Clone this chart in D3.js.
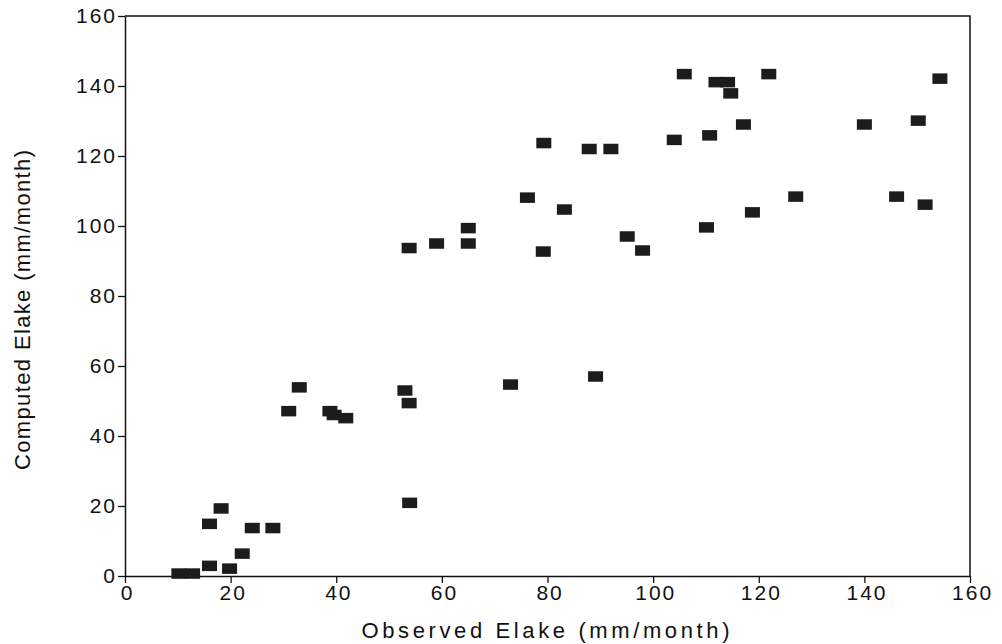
<!DOCTYPE html>
<html>
<head>
<meta charset="utf-8">
<script src="https://cdn.jsdelivr.net/npm/d3@7"></script>
<style>
  body { margin: 0; background: #fff; }
  text { font-family: "Liberation Sans", Arial, sans-serif; fill: #111; }
</style>
</head>
<body>
<div id="svg"></div>
<script>

// observed / computed lake evaporation, mm/month
var observed = [10.2, 12.8, 16, 19.8, 22.2, 16, 18.2, 24.1, 28, 53.9,
		31, 33, 38.8, 39.6, 41.8, 53, 53.8, 73, 89.1,
		53.8, 59, 65, 65, 76.2, 83.2, 79.2, 95.1, 98,
		79.3, 87.9, 92, 105.9, 111.9, 114.1, 114.7, 121.9,
		104, 110.7, 117.1, 110.1, 118.8, 127,
		154.3, 140, 150.2, 146.1, 151.5];
var computed = [0.7, 0.7, 2.9, 2.1, 6.4, 14.9, 19.3, 13.7, 13.7, 20.9,
		47.1, 53.9, 47.1, 46, 45.1, 53, 49.4, 54.7, 57,
		93.7, 95, 99.4, 95, 108.1, 104.7, 92.7, 97, 93,
		123.7, 122, 122, 143.4, 141.1, 141.1, 137.9, 143.4,
		124.6, 125.9, 129, 99.6, 103.9, 108.4,
		142.1, 129, 130.1, 108.4, 106.1];

var x_ticks = [0, 20, 40, 60, 80, 100, 120, 140, 160];
var y_ticks = [0, 20, 40, 60, 80, 100, 120, 140, 160];

var x_title = "Observed Elake (mm/month)";
var y_title = "Computed Elake (mm/month)";

var margin = {top: 16, left: 125, right: 32, bot: 68};
var svg = {width: 1002, height: 644};
var w = svg.width - margin.left - margin.right;
var h = svg.height - margin.top - margin.bot;
var mark = {w: 15, h: 10.5};

var pts = observed.map(function(d, i) { return {x: d, y: computed[i]}; });

var sx = d3.scaleLinear().domain([0, 160]).range([0, w]);
var sy = d3.scaleLinear().domain([0, 160]).range([h, 0]);

var root = d3.select("#svg").append("svg")
    .attr("width", svg.width)
    .attr("height", svg.height);

var g = root.append("g")
    .attr("transform", "translate(" + margin.left + "," + margin.top + ")");

// frame top / right
g.append("path")
    .attr("d", "M0,0H" + w + "V" + h)
    .attr("fill", "none")
    .attr("stroke", "#111")
    .attr("stroke-width", 1.5);

var xa = g.append("g")
    .attr("transform", "translate(0," + h + ")")
    .call(d3.axisBottom(sx).tickValues(x_ticks).tickSize(7).tickPadding(2).tickSizeOuter(0));
var ya = g.append("g")
    .call(d3.axisLeft(sy).tickValues(y_ticks).tickSize(7).tickPadding(1).tickSizeOuter(0));

[xa, ya].forEach(function(a) {
    a.select(".domain").attr("stroke", "#111").attr("stroke-width", 1.5);
    a.selectAll(".tick line").attr("stroke", "#111").attr("stroke-width", 1.3);
    a.selectAll(".tick text")
	.attr("font-size", 21)
	.attr("letter-spacing", "2px")
	.attr("font-family", "Liberation Sans, Arial, sans-serif")
	.attr("fill", "#111");
});
xa.selectAll(".tick text").attr("dx", "0.1em");

// markers
g.append("g").selectAll("rect")
    .data(pts)
    .enter().append("rect")
    .attr("x", function(d) { return sx(d.x) - mark.w / 2; })
    .attr("y", function(d) { return sy(d.y) - mark.h / 2; })
    .attr("width", mark.w)
    .attr("height", mark.h)
    .attr("fill", "#1c1c1c");

// titles
root.append("text")
    .attr("x", margin.left + w / 2 - 2)
    .attr("y", 638)
    .attr("text-anchor", "middle")
    .attr("font-size", 22)
    .attr("textLength", 368)
    .attr("lengthAdjust", "spacing")
    .text(x_title);

root.append("text")
    .attr("transform", "translate(30," + 310 + ") rotate(-90)")
    .attr("text-anchor", "middle")
    .attr("font-size", 22)
    .attr("textLength", 320)
    .attr("lengthAdjust", "spacing")
    .text(y_title);

</script>
</body>
</html>
